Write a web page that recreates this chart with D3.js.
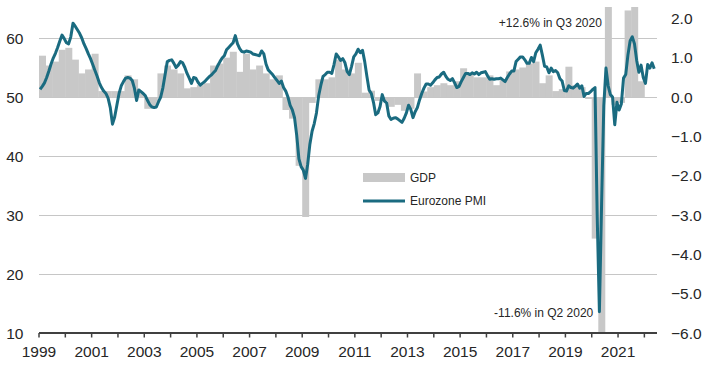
<!DOCTYPE html>
<html><head><meta charset="utf-8">
<script src="https://cdn.jsdelivr.net/npm/d3@7"></script>
<style>
html,body{margin:0;padding:0;background:#fff;}
svg{display:block;font-family:"Liberation Sans",Arial,sans-serif;}
</style></head><body>
<svg id="chart" width="715" height="372"></svg>
<script>
// ---- DATA ----
// Eurozone composite PMI, monthly from Jan 1999 to May 2022 (left axis)
const pmiFirstYear = 1999;
const pmiValues = [
  51.3, 51.8, 52.4, 53.3, 54.4, 55.6, 56.6, 57.4, 58.4, 59.5, 60.5, 59.9, // 1999
  59.2, 59.0, 60.2, 62.5, 62.0, 61.4, 60.8, 60.0, 59.0, 58.2, 57.3, 56.5, // 2000
  55.5, 54.5, 53.5, 52.4, 51.6, 51.0, 50.6, 49.8, 48.2, 45.4, 46.6, 48.6, // 2001
  50.6, 51.9, 52.6, 53.2, 53.3, 53.2, 52.8, 51.5, 49.4, 51.2, 50.9, 50.6, // 2002
  50.2, 49.4, 48.7, 48.3, 48.2, 48.3, 49.2, 50.0, 51.6, 53.8, 56.0, 56.2, // 2003
  56.3, 55.7, 55.0, 55.4, 56.0, 55.8, 55.0, 54.0, 53.2, 52.3, 53.3, 53.2, // 2004
  52.5, 52.0, 52.3, 52.6, 53.0, 53.4, 53.7, 54.1, 54.5, 55.3, 56.0, 56.6, // 2005
  57.0, 58.0, 58.4, 58.8, 59.2, 60.4, 59.0, 58.2, 57.7, 57.6, 57.8, 57.7, // 2006
  57.6, 57.3, 57.2, 57.1, 57.0, 57.8, 57.3, 55.6, 54.6, 54.2, 53.8, 53.3, // 2007
  52.8, 52.3, 52.7, 51.6, 51.0, 50.0, 48.6, 47.8, 46.5, 43.5, 39.5, 38.2, // 2008
  37.6, 36.2, 38.6, 42.0, 44.2, 45.5, 47.3, 50.2, 52.0, 53.5, 53.8, 54.2, // 2009
  54.2, 54.0, 55.5, 57.3, 56.8, 56.2, 56.5, 55.8, 54.3, 53.8, 55.2, 56.8, // 2010
  57.3, 58.1, 57.5, 57.9, 56.0, 53.5, 51.2, 50.6, 49.1, 47.0, 47.3, 48.4, // 2011
  50.4, 49.3, 49.0, 46.8, 46.2, 46.4, 46.5, 46.3, 46.0, 45.7, 46.4, 47.3, // 2012
  48.6, 47.9, 46.5, 47.5, 48.2, 49.5, 50.6, 51.5, 52.2, 52.2, 52.0, 52.4, // 2013
  52.9, 53.3, 53.4, 53.9, 54.2, 53.5, 53.0, 52.8, 53.1, 52.4, 51.6, 51.8, // 2014
  52.6, 53.3, 54.0, 54.0, 53.8, 54.1, 53.9, 54.2, 53.8, 54.1, 54.2, 54.3, // 2015
  53.6, 53.0, 53.1, 53.0, 53.1, 53.1, 53.2, 52.9, 52.6, 53.3, 53.9, 54.4, // 2016
  54.4, 56.0, 56.4, 56.8, 56.8, 56.3, 55.7, 55.7, 56.7, 56.0, 57.5, 58.1, // 2017
  58.8, 57.1, 55.2, 55.1, 54.1, 54.9, 54.3, 54.5, 54.1, 53.1, 52.7, 51.1, // 2018
  51.0, 51.9, 51.6, 51.5, 51.8, 52.2, 51.5, 51.9, 50.1, 50.6, 50.6, 50.9, // 2019
  51.3, 51.6, 29.7, 13.6, 31.9, 48.5, 54.9, 51.9, 50.4, 50.0, 45.3, 49.1, // 2020
  47.8, 48.8, 53.2, 53.8, 57.1, 59.5, 60.2, 59.0, 56.2, 54.2, 55.4, 53.3, // 2021
  52.3, 55.5, 54.9, 55.8, 54.8                                            // 2022
];

// Euro area GDP, % q/q, quarterly from Q1 1999 to Q4 2021 (right axis)
const gdpFirstYear = 1999;
const gdpValues = [
  1.05, 0.8, 0.9, 1.2,     // 1999
  1.25, 0.95, 0.6, 0.7,    // 2000
  1.1, 0.15, 0.15, 0.15,   // 2001
  0.15, 0.55, 0.45, 0.1,   // 2002
  -0.3, -0.25, 0.6, 0.8,   // 2003
  0.7, 0.6, 0.22, 0.25,    // 2004
  0.3, 0.35, 0.8, 0.85,    // 2005
  1.0, 1.15, 0.64, 1.1,    // 2006
  0.7, 0.8, 0.6, 0.45,     // 2007
  0.55, -0.33, -0.55, -1.75, // 2008
  -3.05, -0.15, 0.45, 0.45,  // 2009
  0.5, 0.95, 0.7, 0.6,     // 2010
  0.87, 0.11, 0.16, -0.1,  // 2011
  -0.1, -0.25, -0.2, -0.35, // 2012
  -0.3, 0.6, 0.14, 0.25,   // 2013
  0.3, 0.35, 0.3, 0.4,     // 2014
  0.73, 0.6, 0.5, 0.5,     // 2015
  0.55, 0.3, 0.45, 0.65,   // 2016
  0.7, 0.75, 0.85, 0.9,    // 2017
  0.35, 0.55, 0.15, 0.2,   // 2018
  0.77, 0.3, 0.25, -0.05,  // 2019
  -3.6, -11.6, 12.6, -0.2, // 2020
  -0.15, 2.2, 2.3, 0.4     // 2021
];

const leftTicks = [10, 20, 30, 40, 50, 60];
const rightTicks = [2, 1, 0, -1, -2, -3, -4, -5, -6];
const gridValues = [20, 30, 40, 50, 60];
const yearTicks = d3.range(1999, 2023);
const yearLabels = ["1999","2001","2003","2005","2007","2009","2011","2013","2015","2017","2019","2021"];
const legendLabels = ["GDP", "Eurozone PMI"];
const annotations = [
  {text: "+12.6% in Q3 2020", year: 2020.5, pos: "top"},
  {text: "-11.6% in Q2 2020", year: 2020.25, pos: "bottom"}
];

// ---- LAYOUT ----
const W = 715, H = 372;
const plot = {left: 39, right: 657, top: 7, bottom: 333};
const lineColor = "#1a6b80";
const barColor = "#c8c8c8";
const gridColor = "#c6c6c6";
const textColor = "#262626";

const svg = d3.select("#chart");

const x = d3.scaleLinear().domain([1999, 2022.48]).range([plot.left, plot.right]);
const leftMax = 10 + (plot.bottom - plot.top) / 5.9;
const yL = d3.scaleLinear().domain([10, leftMax]).range([plot.bottom, plot.top]);
const yR = d3.scaleLinear().domain([-6, (leftMax - 50) * 0.15]).range([plot.bottom, plot.top]);

svg.append("defs").append("clipPath").attr("id", "clip")
  .append("rect").attr("x", plot.left).attr("y", plot.top)
  .attr("width", plot.right - plot.left).attr("height", plot.bottom - plot.top);

// gridlines
svg.append("g").selectAll("line").data(gridValues).join("line")
  .attr("x1", plot.left).attr("x2", plot.right)
  .attr("y1", d => Math.round(yL(d)) + 0.5).attr("y2", d => Math.round(yL(d)) + 0.5)
  .attr("stroke", gridColor).attr("stroke-width", 1.2);

// GDP bars
const gdp = gdpValues.map((v, i) => ({t: gdpFirstYear + i / 4, v}));
svg.append("g").attr("clip-path", "url(#clip)").selectAll("rect").data(gdp).join("rect")
  .attr("x", d => x(d.t))
  .attr("width", d => x(d.t + 0.25) - x(d.t) + 0.4)
  .attr("y", d => Math.min(yR(d.v), yR(0)))
  .attr("height", d => Math.abs(yR(d.v) - yR(0)))
  .attr("fill", barColor);

// x axis
const xAxis = svg.append("g").attr("transform", `translate(0,${plot.bottom})`);
xAxis.append("line").attr("x1", plot.left).attr("x2", plot.right)
  .attr("y1", 0).attr("y2", 0).attr("stroke", "#404040").attr("stroke-width", 2);
xAxis.selectAll("line.tick").data(yearTicks).join("line").attr("class", "tick")
  .attr("x1", d => x(d)).attr("x2", d => x(d)).attr("y1", 0).attr("y2", 4.5)
  .attr("stroke", "#404040").attr("stroke-width", 1.5);
xAxis.selectAll("text").data(yearLabels).join("text")
  .attr("x", d => x(+d)).attr("y", 23.5)
  .attr("text-anchor", "middle").attr("font-size", "15.5px").attr("fill", textColor)
  .text(d => d);

// left axis labels
svg.append("g").selectAll("text").data(leftTicks).join("text")
  .attr("x", 23.5).attr("y", d => yL(d)).attr("dy", "0.36em")
  .attr("text-anchor", "end").attr("font-size", "15.5px").attr("fill", textColor)
  .text(d => d);

// right axis labels
svg.append("g").selectAll("text").data(rightTicks).join("text")
  .attr("x", 671).attr("y", d => yR(d)).attr("dy", "0.36em")
  .attr("text-anchor", "start").attr("font-size", "15.5px").attr("fill", textColor)
  .text(d => d3.format(".1f")(d));

// PMI line
const pmi = pmiValues.map((v, i) => ({t: pmiFirstYear + (i + 0.5) / 12, v}));
svg.append("path").datum(pmi).attr("clip-path", "url(#clip)")
  .attr("d", d3.line().x(d => x(d.t)).y(d => yL(d.v)))
  .attr("fill", "none").attr("stroke", lineColor).attr("stroke-width", 3)
  .attr("stroke-linejoin", "round");

// legend
const lg = svg.append("g");
lg.append("rect").attr("x", 363).attr("y", 173).attr("width", 42).attr("height", 9).attr("fill", barColor);
lg.append("line").attr("x1", 363).attr("x2", 405).attr("y1", 201).attr("y2", 201)
  .attr("stroke", lineColor).attr("stroke-width", 3);
lg.selectAll("text").data(legendLabels).join("text")
  .attr("x", 410).attr("y", (d, i) => i === 0 ? 177.5 : 201)
  .attr("dy", "0.36em").attr("font-size", "12px").attr("fill", textColor)
  .text(d => d);

// annotations
svg.append("g").selectAll("text").data(annotations).join("text")
  .attr("x", d => d.pos === "top" ? x(d.year) - 3 : x(d.year) - 5)
  .attr("y", d => d.pos === "top" ? 26.5 : 316.5)
  .attr("text-anchor", "end").attr("font-size", "12px").attr("fill", textColor)
  .text(d => d.text);
</script>
</body></html>
